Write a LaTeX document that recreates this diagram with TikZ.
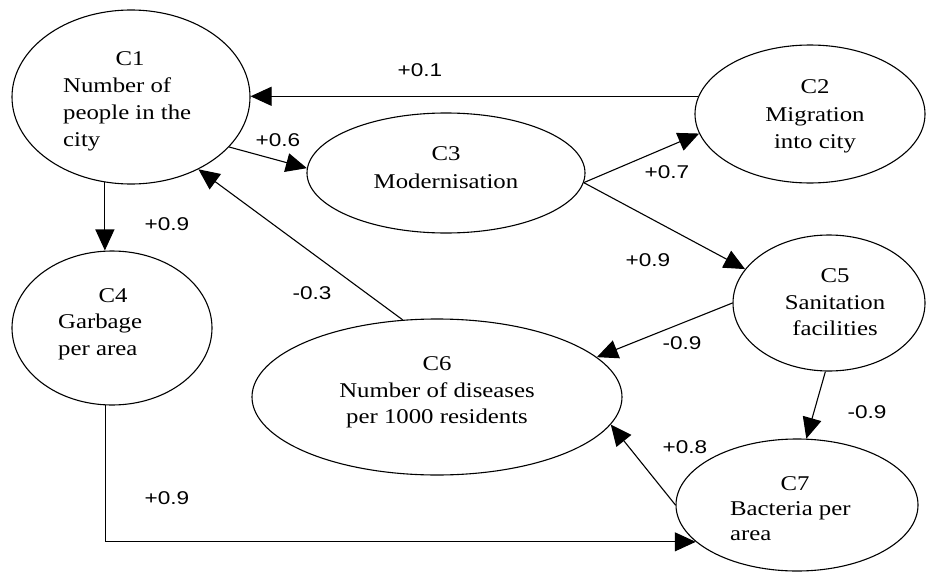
\documentclass[tikz,border=0pt]{standalone}
\usepackage{fontspec}
\setmainfont{Liberation Serif}[FakeStretch=1.18]
\newfontfamily\weightfont{Liberation Sans}[FakeStretch=1.22]
\usetikzlibrary{shapes.geometric,arrows.meta}

\tikzset{
  concept/.style={draw, ellipse, line width=1.1pt, inner sep=0pt},
  body/.style={font=\fontsize{21}{25}\selectfont, inner sep=0pt},
  weight/.style={font=\weightfont\fontsize{18.5}{22}\selectfont, inner sep=0pt},
  link/.style={line width=1.1pt, -{Triangle[length=21pt,width=19pt]}},
}

\begin{document}
\begin{tikzpicture}[x=1pt,y=-1pt]
  \fill[white] (0,0) rectangle (927,573);
  \useasboundingbox (0,0) rectangle (927,573);

  % concepts of the cognitive map
  \node[concept, minimum width=238pt, minimum height=174pt] (c1) at (131,97) {};
  \node[concept, minimum width=230pt, minimum height=138pt] (c2) at (810,114) {};
  \node[concept, minimum width=278pt, minimum height=120pt] (c3) at (446,173) {};
  \node[concept, minimum width=200pt, minimum height=154pt] (c4) at (112,328) {};
  \node[concept, minimum width=192pt, minimum height=136pt] (c5) at (829,303) {};
  \node[concept, minimum width=370pt, minimum height=156pt] (c6) at (437,397) {};
  \node[concept, minimum width=242pt, minimum height=132pt] (c7) at (797,505) {};

  % concept texts
  \node[body, anchor=base] (c1a) at (130,65) {C1};
  \node[body, anchor=base west] (c1b) at (63,92) {Number of};
  \node[body, anchor=base west] (c1c) at (63,119) {people in the};
  \node[body, anchor=base west] (c1d) at (63,146) {city};

  \node[body, anchor=base] (c2a) at (815,93) {C2};
  \node[body, anchor=base] (c2b) at (815,121) {Migration};
  \node[body, anchor=base] (c2c) at (815,148) {into city};

  \node[body, anchor=base] (c3a) at (446,160) {C3};
  \node[body, anchor=base] (c3b) at (446,188) {Modernisation};

  \node[body, anchor=base] (c4a) at (113,302) {C4};
  \node[body, anchor=base west] (c4b) at (58,328) {Garbage};
  \node[body, anchor=base west] (c4c) at (58,355) {per area};

  \node[body, anchor=base] (c5a) at (835,282) {C5};
  \node[body, anchor=base] (c5b) at (835,309) {Sanitation};
  \node[body, anchor=base] (c5c) at (835,335) {facilities};

  \node[body, anchor=base] (c6a) at (437,370) {C6};
  \node[body, anchor=base] (c6b) at (437,397) {Number of diseases};
  \node[body, anchor=base] (c6c) at (437,423) {per 1000 residents};

  \node[body, anchor=base] (c7a) at (795,490) {C7};
  \node[body, anchor=base west] (c7b) at (730,515) {Bacteria per};
  \node[body, anchor=base west] (c7c) at (730,540) {area};

  % causal links
  \draw[link] (c2.171) -- (c2.171 -| c1.east);
  \draw[link] (c1.-27) -- (c3.178);
  \draw[link] (c1.-107) -- (c1.-107 |- c4.north);
  \draw[link] (c4.-95) |- (c7.200);
  \draw[link] (c3.-4) -- (c2.190);
  \draw[link] (c3.-4) -- (c5.158);
  \draw[link] (c5.west) -- (c6.14);
  \draw[link] (c5.-93) -- (c7.82);
  \draw[link] (c6.114) -- (c1.-47);
  \draw[link] (c7.west) -- (c6.-9);

  % link weights
  \node[weight] (w21) at (420,70) {+0.1};
  \node[weight] (w13) at (278,140) {+0.6};
  \node[weight] (w14) at (167,224) {+0.9};
  \node[weight] (w32) at (667,172) {+0.7};
  \node[weight] (w35) at (648,260) {+0.9};
  \node[weight] (w61) at (312,293) {-0.3};
  \node[weight] (w56) at (682,343) {-0.9};
  \node[weight] (w57) at (867,412) {-0.9};
  \node[weight] (w76) at (685,447) {+0.8};
  \node[weight] (w47) at (167,498) {+0.9};
\end{tikzpicture}
\end{document}
